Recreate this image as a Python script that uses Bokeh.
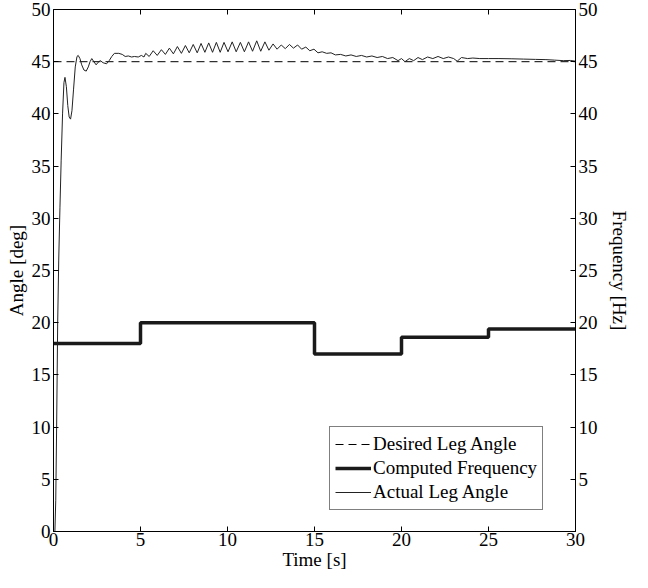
from bokeh.plotting import figure
from bokeh.models import LinearAxis, Range1d, FixedTicker, Legend, LegendItem
from bokeh.embed import file_html
from bokeh.resources import INLINE

# ---- data ----
step_time = [0, 5, 15, 20, 25, 30]
step_freq = [18.0, 20.0, 17.0, 18.6, 19.4, 19.4]

desired_time = [0, 30]
desired_angle = [45, 45]

actual_time = [
    0.08, 0.13, 0.18, 0.24, 0.30, 0.37, 0.44, 0.52, 0.60, 0.66, 0.74, 0.82, 0.90, 0.98,
    1.06, 1.15, 1.25, 1.35, 1.42, 1.52, 1.62, 1.75, 1.88, 2.00, 2.10, 2.20, 2.32, 2.45,
    2.57, 2.69, 2.85, 3.05, 3.20, 3.35, 3.50, 3.75, 3.95, 4.12, 4.30, 4.49, 4.65, 4.87,
    5.05, 5.20, 5.30, 5.50, 5.73, 5.96, 6.20, 6.43, 6.66, 6.89, 7.12, 7.35, 7.58, 7.80,
    8.03, 8.26, 8.48, 8.70, 8.92, 9.14, 9.36, 9.58, 9.80, 10.03, 10.27, 10.50, 10.74,
    10.97, 11.21, 11.44, 11.68, 11.91, 12.15, 12.38, 12.62, 12.85, 13.09, 13.32, 13.56,
    13.79, 14.03, 14.26, 14.50, 14.73, 14.97, 15.20, 15.44, 15.70, 15.95, 16.20, 16.50,
    16.80, 17.10, 17.40, 17.70, 18.00, 18.30, 18.60, 18.90, 19.20, 19.50, 19.80, 20.00,
    20.20, 20.45, 20.70, 20.95, 21.20, 21.50, 21.80, 22.10, 22.40, 22.70, 23.00, 23.20,
    23.45, 23.80, 24.10, 24.50, 25.00, 25.60, 26.30, 27.00, 27.70, 28.30, 28.80, 29.30,
    29.70, 30.00,
]
actual_angle = [
    0.0, 3.0, 10.0, 20.0, 26.0, 31.0, 35.5, 40.0, 43.0, 43.5, 42.6, 40.8, 39.7, 39.5,
    40.3, 42.3, 44.5, 45.5, 45.6, 45.3, 44.7, 44.2, 44.1, 44.5, 45.0, 45.3, 45.0, 44.7,
    44.95, 45.1, 44.9, 44.8, 45.1, 45.5, 45.8, 45.8, 45.7, 45.5, 45.55, 45.45, 45.5, 45.45,
    45.6, 45.45, 45.8, 45.5, 46.05, 45.6, 46.15, 45.7, 46.3, 45.75, 46.45, 45.8, 46.55, 45.85,
    46.65, 45.85, 46.75, 45.9, 46.8, 45.9, 46.85, 45.9, 46.85, 45.95, 46.9, 45.95, 46.85,
    45.95, 46.9, 46.0, 47.0, 46.0, 46.9, 46.1, 46.7, 46.2, 46.6, 46.25, 46.65,
    46.3, 46.6, 46.2, 46.4, 46.05, 46.2, 45.85, 45.95, 45.8, 45.85, 45.65, 45.7,
    45.55, 45.65, 45.5, 45.6, 45.45, 45.55, 45.4, 45.5, 45.3, 45.4, 45.1, 45.3,
    45.0, 45.3, 45.1, 45.4, 45.2, 45.45, 45.3, 45.5, 45.3, 45.45, 45.3, 45.05,
    45.4, 45.3, 45.35, 45.3, 45.3, 45.3, 45.28, 45.25, 45.22, 45.2, 45.15, 45.1,
    45.12, 45.05,
]

x_ticks = [0, 5, 10, 15, 20, 25, 30]
left_ticks = [0, 5, 10, 15, 20, 25, 30, 35, 40, 45, 50]
right_ticks = [5, 10, 15, 20, 25, 30, 35, 40, 45, 50]

FONT = "Liberation Serif"
FS = "19px"

p = figure(width=632, height=572, x_range=Range1d(0, 30), y_range=Range1d(0, 50),
           output_backend="svg", toolbar_location=None,
           min_border_left=53, min_border_right=52, min_border_top=9, min_border_bottom=36)
p.extra_y_ranges = {"freq": Range1d(0, 50)}
p.xgrid.visible = False
p.ygrid.visible = False
p.outline_line_color = "black"
p.outline_line_width = 1
p.background_fill_color = "white"
p.border_fill_color = "white"

def style_axis(ax):
    ax.axis_line_color = "black"
    ax.major_tick_line_color = "black"
    ax.major_tick_in = 5
    ax.major_tick_out = 0
    ax.minor_tick_line_color = None
    ax.major_label_text_font = FONT
    ax.major_label_text_font_size = FS
    ax.major_label_text_color = "black"
    ax.axis_label_text_font = FONT
    ax.axis_label_text_font_size = FS
    ax.axis_label_text_font_style = "normal"
    ax.axis_label_text_color = "black"

p.xaxis.ticker = FixedTicker(ticks=x_ticks)
p.xaxis.axis_label = "Time [s]"
p.xaxis.major_label_standoff = 1
p.xaxis.axis_label_standoff = 0
p.yaxis.ticker = FixedTicker(ticks=left_ticks)
p.yaxis.axis_label = "Angle [deg]"
p.yaxis.major_label_standoff = 3
p.yaxis.axis_label_standoff = 2
style_axis(p.xaxis[0])
style_axis(p.yaxis[0])

right = LinearAxis(y_range_name="freq", ticker=FixedTicker(ticks=right_ticks),
                   axis_label="Frequency [Hz]")
style_axis(right)
right.major_label_standoff = 3
right.axis_label_standoff = 8
p.add_layout(right, "right")

# top-edge ticks of the box (inward), at the x tick positions
p.segment(x0=x_ticks, y0=[50] * len(x_ticks), x1=x_ticks, y1=[49.52] * len(x_ticks),
          line_color="black", line_width=1)

r_des = p.line(desired_time, desired_angle, line_color="black", line_width=1, line_dash="8 5")
r_freq = p.step(step_time, step_freq, mode="after", line_color="#1a1a1a", line_width=3.5,
                y_range_name="freq")
r_act = p.line(actual_time, actual_angle, line_color="#222222", line_width=1)

legend = Legend(items=[
    LegendItem(label="Desired Leg Angle", renderers=[r_des]),
    LegendItem(label="Computed Frequency", renderers=[r_freq]),
    LegendItem(label="Actual Leg Angle", renderers=[r_act]),
], location=(276, 21))
legend.label_text_font = FONT
legend.label_text_font_size = FS
legend.label_text_color = "black"
legend.border_line_color = "black"
legend.border_line_width = 1
legend.background_fill_alpha = 1
legend.padding = 5
legend.spacing = 0
legend.margin = 0
legend.glyph_width = 36
legend.glyph_height = 24
legend.label_height = 24
legend.label_standoff = 2
p.add_layout(legend, "center")

open("out.html", "w").write(file_html(p, INLINE))
